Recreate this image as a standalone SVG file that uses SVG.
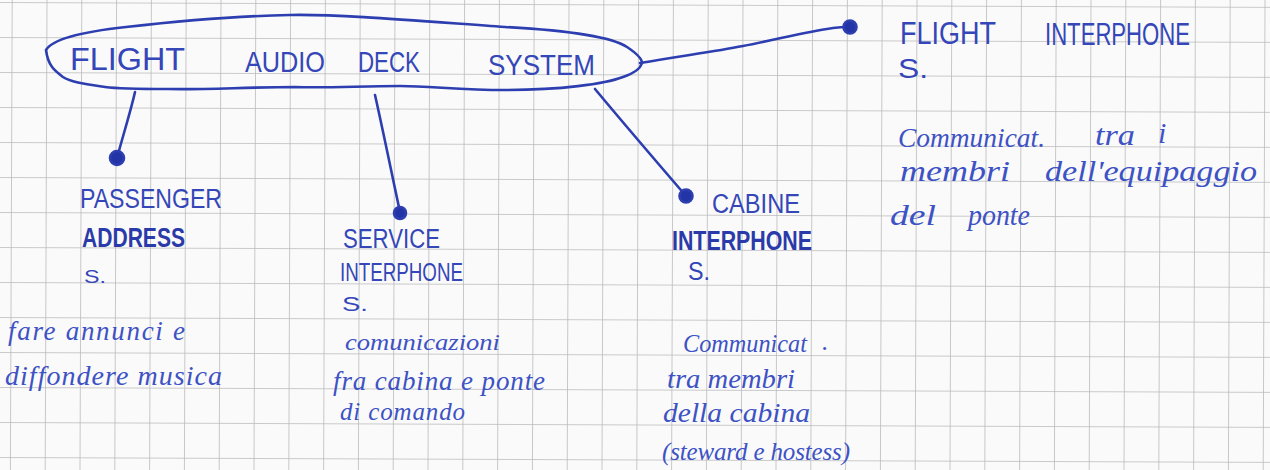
<svg xmlns="http://www.w3.org/2000/svg" width="1270" height="470" viewBox="0 0 1270 470">
  <style>
    .caps { font-family: "Liberation Sans", "DejaVu Sans", sans-serif; fill: #3446b8; font-weight: 400; }
    .bold { font-weight: 700; fill: #2a3aa8; }
    .note { font-family: "Liberation Serif", "DejaVu Serif", serif; font-style: italic; fill: #3d52c4; }
    .ink { fill: none; stroke: #2c3eb0; stroke-width: 2.6; stroke-linecap: round; stroke-linejoin: round; }
    .dot { fill: #2234a6; }
  </style>
  <defs>
    <pattern id="squares" x="11.7" y="2" width="34.8" height="35" patternUnits="userSpaceOnUse">
      <line x1="0" y1="0" x2="0" y2="35" stroke="#bababa" stroke-width="1.6"/>
      <line x1="0" y1="0" x2="34.8" y2="0" stroke="#bababa" stroke-width="1.6"/>
    </pattern>
  </defs>

  <!-- squared paper -->
  <rect width="1270" height="470" fill="#fafafa"/>
  <g transform="rotate(0.22 0 0)">
    <rect x="-20" y="-20" width="1320" height="520" fill="url(#squares)"/>
  </g>

  <!-- connectors -->
  <g id="connectors" class="ink">
    <path d="M135,92 C131,110 124,132 117,158"/>
    <path d="M375,95 C384,135 392,175 400,212"/>
    <path d="M595,89 C625,125 655,160 686,196"/>
    <path d="M640,63 C680,56 712,52 743,46 C775,40 805,32 833,28 C840,27 845,27 850,27"/>
    <circle class="dot" cx="117" cy="158" r="7"/>
    <circle class="dot" cx="400" cy="213" r="6"/>
    <circle class="dot" cx="686" cy="196" r="6.5"/>
    <circle class="dot" cx="850" cy="27" r="6.5"/>
  </g>

  <!-- central system -->
  <g id="node-flight-audio-deck-system">
    <path class="ink" d="M46,50 C52,40 80,32 126,27 C170,22 240,16 290,15 C340,14 420,21 505,27 C560,30 610,36 627,47 C636,53 642,58 642,63 C640,70 632,74 623,77 C605,84 560,90 505,90 C460,90 430,86 400,86 C360,86 330,88 295,87 C250,87 200,90 168,89 C140,89 120,89 105,87 C85,84 70,82 63,77 C55,71 48,66 46,50 Z"/>
    <text class="caps" x="70" y="70" font-size="31" textLength="115" lengthAdjust="spacingAndGlyphs">FLIGHT</text>
    <text class="caps" x="245" y="72" font-size="29" textLength="80" lengthAdjust="spacingAndGlyphs">AUDIO</text>
    <text class="caps" x="358" y="72" font-size="29" textLength="62" lengthAdjust="spacingAndGlyphs">DECK</text>
    <text class="caps" x="488" y="75" font-size="29" textLength="107" lengthAdjust="spacingAndGlyphs">SYSTEM</text>
  </g>

  <!-- flight interphone -->
  <g id="node-flight-interphone">
    <text class="caps" x="900" y="44" font-size="32" textLength="96" lengthAdjust="spacingAndGlyphs">FLIGHT</text>
    <text class="caps" x="1045" y="45" font-size="32" textLength="145" lengthAdjust="spacingAndGlyphs">INTERPHONE</text>
    <text class="caps" x="898" y="78" font-size="28" textLength="30" lengthAdjust="spacingAndGlyphs">S.</text>
    <text class="note" x="898" y="147" font-size="27" textLength="147" lengthAdjust="spacingAndGlyphs">Communicat.</text>
    <text class="note" x="1095" y="145" font-size="30" textLength="40" lengthAdjust="spacingAndGlyphs">tra</text>
    <text class="note" x="1158" y="143" font-size="30">i</text>
    <text class="note" x="900" y="181" font-size="30" textLength="110" lengthAdjust="spacingAndGlyphs">membri</text>
    <text class="note" x="1045" y="181" font-size="30" textLength="212" lengthAdjust="spacingAndGlyphs">dell'equipaggio</text>
    <text class="note" x="890" y="225" font-size="30" textLength="46" lengthAdjust="spacingAndGlyphs">del</text>
    <text class="note" x="968" y="225" font-size="30" textLength="62" lengthAdjust="spacingAndGlyphs">ponte</text>
  </g>

  <!-- passenger address -->
  <g id="node-passenger-address">
    <text class="caps" x="80" y="208" font-size="28" textLength="142" lengthAdjust="spacingAndGlyphs">PASSENGER</text>
    <text class="caps bold" x="82" y="247" font-size="28" textLength="103" lengthAdjust="spacingAndGlyphs">ADDRESS</text>
    <text class="caps" x="84" y="283" font-size="19" textLength="22" lengthAdjust="spacingAndGlyphs">S.</text>
    <text class="note" x="8" y="340" font-size="27" textLength="177" lengthAdjust="spacing">fare annunci e</text>
    <text class="note" x="5" y="385" font-size="28" textLength="217" lengthAdjust="spacing">diffondere musica</text>
  </g>

  <!-- service interphone -->
  <g id="node-service-interphone">
    <text class="caps" x="343" y="248" font-size="27" textLength="97" lengthAdjust="spacingAndGlyphs">SERVICE</text>
    <text class="caps" x="340" y="281" font-size="25" textLength="123" lengthAdjust="spacingAndGlyphs">INTERPHONE</text>
    <text class="caps" x="342" y="311" font-size="21" textLength="26" lengthAdjust="spacingAndGlyphs">S.</text>
    <text class="note" x="345" y="350" font-size="24" textLength="155" lengthAdjust="spacingAndGlyphs">comunicazioni</text>
    <text class="note" x="333" y="390" font-size="27" textLength="212" lengthAdjust="spacing">fra cabina e ponte</text>
    <text class="note" x="340" y="420" font-size="25" textLength="125" lengthAdjust="spacing">di comando</text>
  </g>

  <!-- cabine interphone -->
  <g id="node-cabine-interphone">
    <text class="caps" x="712" y="213" font-size="27" textLength="88" lengthAdjust="spacingAndGlyphs">CABINE</text>
    <text class="caps bold" x="672" y="250" font-size="27" textLength="140" lengthAdjust="spacingAndGlyphs">INTERPHONE</text>
    <text class="caps" x="688" y="280" font-size="26" textLength="22" lengthAdjust="spacingAndGlyphs">S.</text>
    <text class="note" x="683" y="352" font-size="26" textLength="124" lengthAdjust="spacingAndGlyphs">Communicat</text>
    <text class="note" x="822" y="350" font-size="26">.</text>
    <text class="note" x="667" y="388" font-size="28" textLength="128" lengthAdjust="spacingAndGlyphs">tra membri</text>
    <text class="note" x="663" y="422" font-size="28" textLength="147" lengthAdjust="spacingAndGlyphs">della cabina</text>
    <text class="note" x="662" y="460" font-size="25" textLength="188" lengthAdjust="spacing">(steward e hostess)</text>
  </g>
</svg>
